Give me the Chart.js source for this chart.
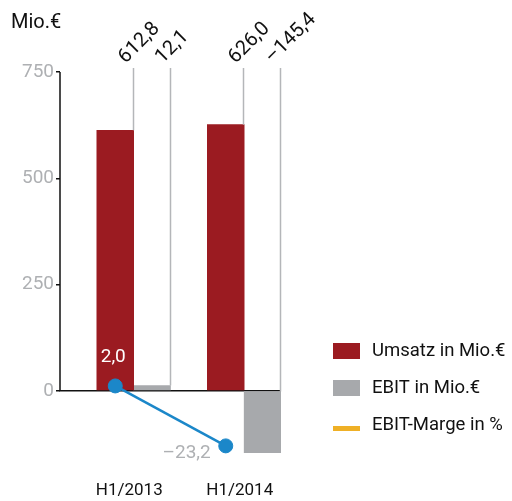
<!DOCTYPE html>
<html>
<head>
<meta charset="utf-8">
<script src="https://cdn.jsdelivr.net/npm/chart.js@4.4.1/dist/chart.umd.min.js"></script>
<style>
  html, body { margin: 0; padding: 0; background: #fff; }
  #wrap { width: 512px; height: 501px; }
</style>
</head>
<body>
<div id="wrap"><canvas id="c" width="512" height="501"></canvas></div>
<script>
// Half-year figures
const periods = ['H1/2013', 'H1/2014'];
const revenue = [612.8, 626.0];      // Umsatz in Mio.€
const ebit = [12.1, -145.4];         // EBIT in Mio.€
const ebitMargin = [2.0, -23.2];     // EBIT-Marge in %
const yTicks = [0, 250, 500, 750];

const legendItems = ['Umsatz in Mio.€', 'EBIT in Mio.€', 'EBIT-Marge in %'];

const RED = '#9b1b21';
const GREY = '#a7a9ac';
const BLUE = '#1b87c9';
const ORANGE = '#efb026';
const FONT = 'Roboto, "Liberation Sans", sans-serif';

// German number format with a typographic minus
const fmt = v => (v < 0 ? '\u2013' : '') + Math.abs(v).toFixed(1).replace('.', ',');

const annotate = {
  id: 'annotate',
  beforeDatasetsDraw(chart) {
    const { ctx, chartArea } = chart;
    const y = chart.scales.y;
    const y0 = y.getPixelForValue(0);
    const yTop = y.getPixelForValue(750);
    ctx.save();
    ctx.strokeStyle = '#111';
    ctx.lineWidth = 1.5;
    ctx.beginPath();
    ctx.moveTo(chartArea.left, yTop);
    ctx.lineTo(chartArea.left, y0);
    ctx.lineTo(chartArea.right, y0);
    ctx.stroke();
    ctx.restore();
  },
  afterDatasetsDraw(chart) {
    const { ctx } = chart;
    ctx.save();
    // leader lines and rotated value labels above each bar
    [1, 2].forEach(di => {
      const meta = chart.getDatasetMeta(di);
      const values = chart.data.datasets[di].data;
      meta.data.forEach((bar, i) => {
        const lx = Math.round(bar.x + bar.width / 2) - 0.5;
        ctx.strokeStyle = '#b4b6b9';
        ctx.lineWidth = 1.5;
        ctx.beginPath();
        ctx.moveTo(lx, 68);
        ctx.lineTo(lx, Math.min(bar.y, bar.base));
        ctx.stroke();

        ctx.save();
        ctx.translate(lx - 8, 64);
        ctx.rotate(-Math.PI / 4);
        ctx.fillStyle = '#111';
        ctx.font = '20px ' + FONT;
        ctx.textAlign = 'left';
        ctx.textBaseline = 'alphabetic';
        ctx.fillText(fmt(values[i]), 0, 0);
        ctx.restore();
      });
    });

    // margin labels
    const lm = chart.getDatasetMeta(3);
    ctx.font = '19px ' + FONT;
    ctx.textBaseline = 'middle';
    const p0 = lm.data[0], p1 = lm.data[1];
    ctx.fillStyle = '#fff';
    ctx.textAlign = 'center';
    ctx.fillText(fmt(ebitMargin[0]), p0.x - 2, p0.y - 29);
    ctx.fillStyle = '#aeb0b3';
    ctx.textAlign = 'right';
    ctx.fillText(fmt(ebitMargin[1]), p1.x - 15, p1.y + 7);
    ctx.restore();
  },
  afterDraw(chart) {
    const { ctx } = chart;
    ctx.save();
    // unit title
    ctx.fillStyle = '#111';
    ctx.font = '20px ' + FONT;
    ctx.textAlign = 'left';
    ctx.textBaseline = 'middle';
    ctx.fillText('Mio.€', 11, 23);

    // legend
    const rows = [351, 388, 425];
    const colors = [RED, GREY, ORANGE];
    ctx.font = '18.5px ' + FONT;
    rows.forEach((ry, i) => {
      ctx.fillStyle = colors[i];
      if (i < 2) ctx.fillRect(333, ry - 8, 27, 16);
      else ctx.fillRect(333, ry + 1, 27, 5);
      ctx.fillStyle = '#111';
      ctx.fillText(legendItems[i], 372, ry);
    });
    ctx.restore();
  }
};

new Chart(document.getElementById('c'), {
  data: {
    labels: periods,
    datasets: [
      { type: 'bar', label: '', data: [null, null], order: 1 },
      { type: 'bar', label: legendItems[0], data: revenue, backgroundColor: RED, order: 1 },
      { type: 'bar', label: legendItems[1], data: ebit, backgroundColor: GREY, order: 1 },
      {
        type: 'line', label: legendItems[2], data: ebitMargin, yAxisID: 'y2', order: 0,
        borderColor: BLUE, backgroundColor: BLUE, borderWidth: 2.5,
        pointRadius: 7, pointBorderWidth: 1, pointBackgroundColor: BLUE, pointBorderColor: BLUE,
        tension: 0
      }
    ]
  },
  options: {
    responsive: false,
    animation: false,
    devicePixelRatio: 1,
    layout: { padding: { top: 72, right: 231, left: 0, bottom: 0 } },
    datasets: { bar: { categoryPercentage: 1, barPercentage: 1 } },
    plugins: { legend: { display: false }, tooltip: { enabled: false } },
    scales: {
      x: {
        type: 'category',
        offset: true,
        grid: { display: false, drawTicks: false },
        border: { display: false },
        ticks: { color: '#111', font: { family: FONT, size: 17 }, padding: 18, labelOffset: 14, maxRotation: 0 },
        afterFit: s => { s.height = 38; }
      },
      y: {
        position: 'left',
        min: -170,
        max: 750,
        afterBuildTicks: s => { s.ticks = yTicks.map(v => ({ value: v })); },
        border: { display: false },
        grid: { drawOnChartArea: false, drawTicks: true, tickLength: 4, color: '#111', lineWidth: 1.5 },
        ticks: { color: '#aeb0b3', font: { family: FONT, size: 19 }, padding: 2 },
        afterFit: s => { s.width = 60; }
      },
      y2: {
        display: false,
        min: -30.4,
        max: 134
      }
    }
  },
  plugins: [annotate]
});
</script>
</body>
</html>
